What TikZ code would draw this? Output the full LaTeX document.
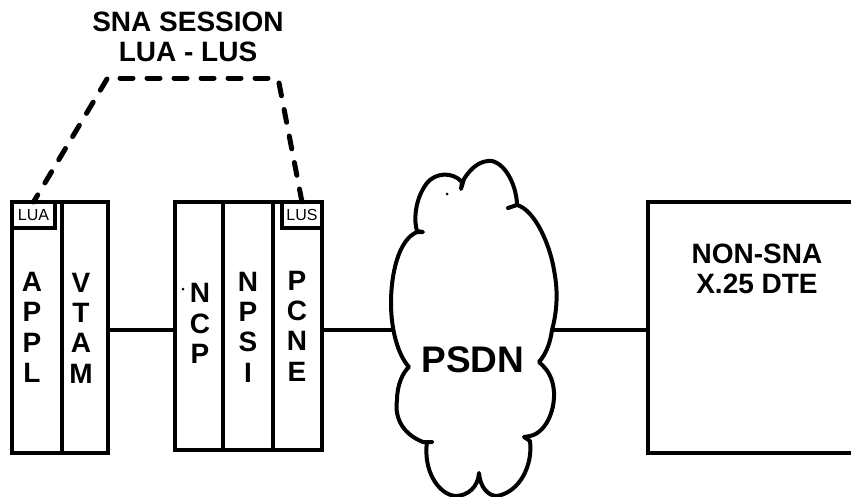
\documentclass[tikz,border=0pt]{standalone}
\usepackage{fontspec}
\setmainfont{Liberation Sans}
\usetikzlibrary{calc}
\tikzset{
  col/.style={draw=black,line width=4pt,fill=white,inner sep=0pt,outer sep=0pt},
  tag/.style={draw=black,line width=3.5pt,fill=white,inner sep=0pt,outer sep=0pt,font=\fontsize{16}{16}\selectfont},
  vert/.style={align=center,inner sep=0pt,font=\fontsize{28}{30.3}\selectfont\bfseries},
  wire/.style={line width=4pt,black},
  sess/.style={line width=5pt,black,line cap=round,dash pattern=on 13pt off 14pt},
  lab/.style={align=center,inner sep=0pt,font=\fontsize{28}{30.5}\selectfont\bfseries}
}
\begin{document}
\begin{tikzpicture}[x=1pt,y=-1pt]
\useasboundingbox (0,0) rectangle (851,496);
% columns
\node[col,minimum width=50pt,minimum height=251pt] (appl) at (37,327.5) {};
\node[col,minimum width=46pt,minimum height=251pt] (vtam) at (85,327.5) {};
\node[col,minimum width=48pt,minimum height=248pt] (ncp) at (199,326) {};
\node[col,minimum width=50pt,minimum height=248pt] (npsi) at (248,326) {};
\node[col,minimum width=49pt,minimum height=248pt] (pcne) at (297.5,326) {};
\node[tag,minimum width=43pt,minimum height=26pt] (lua) at (33.5,215) {LUA};
\node[tag,minimum width=40pt,minimum height=26pt] (lus) at (302,215) {LUS};
% column texts
\node[vert] (tappl) at (32,327.5) {A\\P\\P\\L};
\node[vert] (tvtam) at (81,328) {V\\T\\A\\M};
\node[vert] (tncp) at (200,323.5) {N\\C\\P};
\node[vert] (tnpsi) at (248,327) {N\\P\\S\\I};
\node[vert] (tpcne) at (297,326) {P\\C\\N\\E};
% non-SNA station: its right side lies outside the picture
\coordinate (dteW) at (648,330);
\draw[line width=4pt,black,line join=miter] (851,202) -- (648,202) -- (648,453) -- (851,453);
% cloud
\coordinate (cloudL) at (392,330);
\coordinate (cloudR) at (552,330);
\draw[line width=4pt,black,fill=white,line join=round,line cap=round]
  (423,232) -- (417,231)
  .. controls (414,222) and (414,200) .. (427,183)
  .. controls (435,173) and (452,171) .. (462,182)
  -- (461,189) -- (464,179)
  .. controls (472,166) and (482,160) .. (492,161)
  .. controls (508,165) and (517,190) .. (517,205)
  -- (508,208) -- (517,205)
  .. controls (535,210) and (550,245) .. (554,270)
  .. controls (559,295) and (556,315) .. (552,330)
  .. controls (550,345) and (545,355) .. (539,362)
  .. controls (548,370) and (553,378) .. (554,392)
  .. controls (555,412) and (545,433) .. (530,436)
  -- (524,437) -- (530,441)
  .. controls (533,465) and (520,492) .. (497,496)
  .. controls (488,496) and (480,487) .. (479,473)
  .. controls (478,487) and (468,496) .. (455,496)
  .. controls (438,494) and (423,470) .. (427,442)
  -- (432,442) -- (423,442)
  .. controls (405,435) and (394,420) .. (397,400)
  .. controls (397,385) and (403,372) .. (409,367)
  .. controls (398,355) and (391,330) .. (391,303)
  .. controls (391,275) and (398,240) .. (417,232)
  -- cycle;
\draw[wire] (vtam.east |- cloudL) -- (ncp.west |- cloudL);
\draw[wire] (pcne.east |- cloudL) -- (cloudL);
\draw[wire] (cloudR) -- (dteW);
\node[inner sep=0pt,font=\fontsize{37}{37}\selectfont\bfseries] (psdn) at (473,360) {PSDN};
\node[lab] (tdte) at (757,269) {NON-SNA\\X.25 DTE};
% session
\node[lab] (sna) at (188,37) {SNA SESSION\\LUA - LUS};
\coordinate (bendL) at (107,79);
\coordinate (topL) at (120,78);
\coordinate (topR) at (271,78);
\coordinate (bendR) at (279,83);
\draw[sess] (bendL) -- (lua.north);
\draw[sess] (topL) -- (topR);
\draw[sess] (bendR) -- (lus.north);
% specks
\fill (183,289) circle (1.5pt);
\fill (447,194) circle (1.5pt);
\end{tikzpicture}
\end{document}
